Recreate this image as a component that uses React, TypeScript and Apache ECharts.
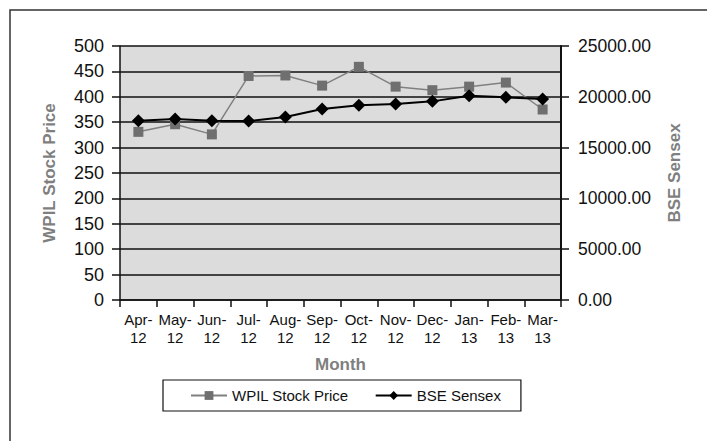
import React, { useEffect, useRef } from "react";
import * as echarts from "echarts";

const months = ["Apr-12", "May-12", "Jun-12", "Jul-12", "Aug-12", "Sep-12", "Oct-12", "Nov-12", "Dec-12", "Jan-13", "Feb-13", "Mar-13"];
const wpilPrice = [331, 346, 326, 441, 442, 422, 459, 420, 413, 420, 428, 375];
const bseSensex = [17650, 17810, 17650, 17620, 18010, 18800, 19160, 19290, 19550, 20110, 19950, 19780];
const leftTicks = { min: 0, max: 500, interval: 50 };
const rightTicks = { min: 0, max: 25000, interval: 5000 };

const FONT = "'Liberation Sans', Arial, sans-serif";

export default function App() {
  const ref = useRef<HTMLDivElement>(null);
  useEffect(() => {
    if (!ref.current) return;
    const chart = echarts.init(ref.current, undefined, { renderer: "svg" });
    chart.setOption({
      animation: false,
      backgroundColor: "#ffffff",
      textStyle: { fontFamily: FONT },
      graphic: [
        {
          type: "rect",
          shape: { x: 10, y: 10, width: 900, height: 600 },
          style: { fill: "none", stroke: "#333333", lineWidth: 1.5 },
          silent: true,
          z: -1,
        },
      ],
      grid: {
        left: 120,
        right: 146,
        top: 46,
        bottom: 141,
        show: true,
        backgroundColor: "#dcdcdc",
        borderWidth: 0,
      },
      legend: {
        left: 163,
        top: 380,
        padding: [8, 20, 8, 27],
        borderColor: "#111111",
        borderWidth: 1.2,
        itemWidth: 36,
        itemHeight: 11,
        itemGap: 26,
        textStyle: { fontSize: 15, color: "#111111", fontFamily: FONT },
        data: ["WPIL Stock Price", "BSE Sensex"],
      },
      xAxis: {
        type: "category",
        data: months,
        boundaryGap: true,
        name: "Month",
        nameLocation: "middle",
        nameGap: 56,
        nameTextStyle: { fontSize: 17, fontWeight: "bold", color: "#7f7f7f", fontFamily: FONT },
        axisLine: { lineStyle: { color: "#111111", width: 1.5 } },
        axisTick: { show: true, interval: 0, length: 7, lineStyle: { color: "#111111", width: 1.5 } },
        axisLabel: {
          interval: 0,
          margin: 10,
          fontSize: 15,
          lineHeight: 18,
          color: "#111111",
          formatter: (v: string) => v.replace("-", "-\n"),
        },
      },
      yAxis: [
        {
          type: "value",
          min: leftTicks.min,
          max: leftTicks.max,
          interval: leftTicks.interval,
          name: "WPIL Stock Price",
          nameLocation: "middle",
          nameGap: 62,
          nameRotate: 90,
          nameTextStyle: { fontSize: 17, fontWeight: "bold", color: "#7f7f7f", fontFamily: FONT },
          axisLine: { show: true, lineStyle: { color: "#111111", width: 1.5 } },
          axisTick: { show: true, length: 8, lineStyle: { color: "#111111", width: 1.5 } },
          axisLabel: { margin: 16, fontSize: 18, color: "#111111" },
          splitLine: { show: true, lineStyle: { color: "#111111", width: 1.5 } },
        },
        {
          type: "value",
          min: rightTicks.min,
          max: rightTicks.max,
          interval: rightTicks.interval,
          position: "right",
          name: "BSE Sensex",
          nameLocation: "middle",
          nameGap: 105,
          nameRotate: 90,
          nameTextStyle: { fontSize: 17, fontWeight: "bold", color: "#7f7f7f", fontFamily: FONT },
          axisLine: { show: true, lineStyle: { color: "#111111", width: 2 } },
          axisTick: { show: true, length: 8, lineStyle: { color: "#111111", width: 1.5 } },
          axisLabel: { margin: 17, fontSize: 17.5, color: "#111111", formatter: (v: number) => v.toFixed(2) },
          splitLine: { show: false },
        },
      ],
      series: [
        {
          name: "WPIL Stock Price",
          type: "line",
          yAxisIndex: 0,
          data: wpilPrice,
          symbol: "rect",
          symbolSize: 10,
          itemStyle: { color: "#6f6f6f" },
          lineStyle: { color: "#808080", width: 1.5 },
          z: 2,
        },
        {
          name: "BSE Sensex",
          type: "line",
          yAxisIndex: 1,
          data: bseSensex,
          symbol: "diamond",
          symbolSize: 13,
          itemStyle: { color: "#000000" },
          lineStyle: { color: "#000000", width: 2 },
          z: 3,
        },
      ],
    });
    return () => chart.dispose();
  }, []);
  return <div ref={ref} style={{ position: "fixed", left: 0, top: 0, width: 707, height: 441 }} />;
}
